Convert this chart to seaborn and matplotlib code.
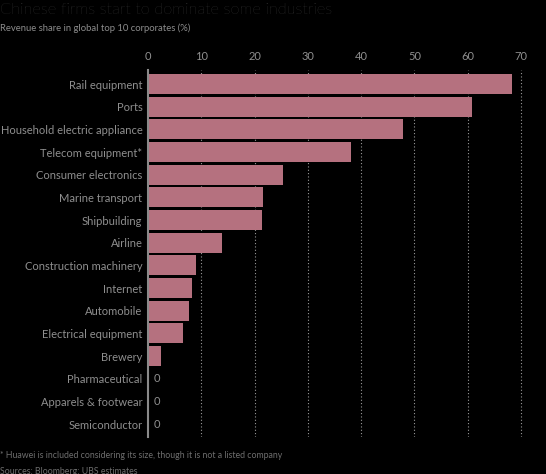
import matplotlib
matplotlib.use("Agg")
import matplotlib.pyplot as plt
import seaborn as sns
import pandas as pd

categories = ["Rail equipment", "Ports", "Household electric appliance", "Telecom equipment*",
              "Consumer electronics", "Marine transport", "Shipbuilding", "Airline",
              "Construction machinery", "Internet", "Automobile", "Electrical equipment",
              "Brewery", "Pharmaceutical", "Apparels & footwear", "Semiconductor"]
values = [68.3, 60.7, 47.9, 38.0, 25.3, 21.6, 21.4, 13.8, 9.0, 8.3, 7.6, 6.5, 2.4, 0, 0, 0]
xticks = [0, 10, 20, 30, 40, 50, 60, 70]

title = "Chinese firms start to dominate some industries"
subtitle = "Revenue share in global top 10 corporates (%)"
footnote = "* Huawei is included considering its size, though it is not a listed company"
source = "Sources: Bloomberg; UBS estimates"

sns.set_theme(style="white")
plt.rcParams["font.family"] = ["Lato", "DejaVu Sans"]

bg = "#000000"
bar_color = "#b5717f"
text_color = "#8f8f8f"

df = pd.DataFrame({"category": categories, "value": values})

fig = plt.figure(figsize=(5.46, 4.74), dpi=100, facecolor=bg)
ax = fig.add_axes([148/546, 1-437/474, (72*5.33)/546, (437-70)/474])
ax.set_facecolor(bg)

sns.barplot(data=df, x="value", y="category", orient="h", color=bar_color,
            saturation=1, width=0.88, ax=ax, edgecolor="none", zorder=3)

ax.set_xlim(0, 72)
ax.set_ylim(len(categories) - 1 + 0.57, -0.62)
ax.xaxis.tick_top()
ax.set_xticks(xticks)
ax.set_xticklabels([str(t) for t in xticks])
ax.tick_params(axis="x", colors=text_color, labelsize=8, length=0, pad=6)
ax.tick_params(axis="y", colors=text_color, labelsize=8, length=0, pad=4)
for lab in ax.get_yticklabels():
    lab.set_color(text_color)
ax.set_xlabel("")
ax.set_ylabel("")

for t in xticks[1:]:
    ax.axvline(t, color="#9a9a9a", linestyle=(0, (1, 2)), linewidth=0.8, zorder=1)

for s in ["top", "right", "bottom"]:
    ax.spines[s].set_visible(False)
ax.spines["left"].set_color("#8a8a8a")
ax.spines["left"].set_linewidth(1.5)
ax.spines["left"].set_zorder(4)

for i, v in enumerate(values):
    if v == 0:
        ax.text(1.0, i, "0", va="center", ha="left", color=text_color, fontsize=8)

fig.text(0.0, 1-10/474, title, color="#4d4d4d", fontsize=11.8, fontweight="light",
         va="center", ha="left")
fig.text(0.0, 1-28/474, subtitle, color="#8c8c8c", fontsize=6.8, va="center", ha="left")
fig.text(0.0, 1-455/474, footnote, color="#6e6e6e", fontsize=6.3, va="center", ha="left")
fig.text(0.0, 1-471/474, source, color="#6e6e6e", fontsize=6.3, va="center", ha="left")

fig.savefig("out.png", dpi=100, facecolor=bg)
